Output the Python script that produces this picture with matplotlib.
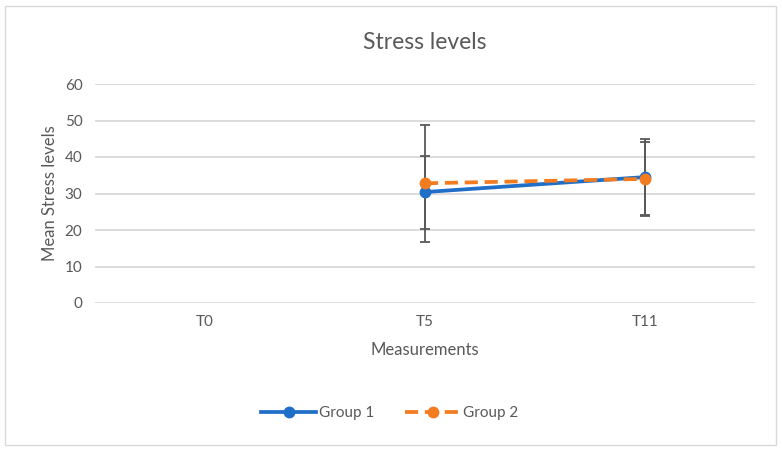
import numpy as np
import matplotlib.pyplot as plt
from matplotlib.patches import Rectangle
from matplotlib.lines import Line2D

plt.rcParams['font.family'] = ['Lato', 'DejaVu Sans']

categorias = ['T0', 'T5', 'T11']
grupo1 = [np.nan, 30.4, 34.5]
grupo2 = [np.nan, 32.8, 34.0]
error1 = [np.nan, 10.0, 10.4]
error2 = [np.nan, 16.0, 10.1]

gris_texto = '#595959'
azul = '#1f6fc8'
naranja = '#f47c20'
estilo_guion = (0, (3.5, 1.8))

fig = plt.figure(figsize=(7.82, 4.51), dpi=100)
fig.patches.append(Rectangle((5 / 782, 6 / 451), 771 / 782, 439 / 451, transform=fig.transFigure,
                             fill=False, edgecolor='#d9d9d9', linewidth=1))
ax = fig.add_axes([95 / 782, 1 - 303 / 451, 660 / 782, 219 / 451])

x = np.arange(len(categorias))
ax.errorbar(x, grupo1, yerr=error1, color=azul, linewidth=2.7, marker='o', markersize=7.5,
            ecolor='#595959', elinewidth=1.3, capsize=3.5, capthick=1.3, zorder=3)
ax.errorbar(x, grupo2, yerr=error2, color=naranja, linewidth=2.7, linestyle=estilo_guion, marker='o',
            markersize=7.5, ecolor='#595959', elinewidth=1.3, capsize=3.5, capthick=1.3, zorder=3)

ax.set_xlim(-0.5, 2.5)
ax.set_ylim(0, 60)
ax.set_yticks(range(0, 61, 10))
ax.set_xticks(x)
ax.set_xticklabels(categorias)
ax.grid(axis='y', color='#d9d9d9', linewidth=1.3)
ax.set_axisbelow(True)
for s in ax.spines.values():
    s.set_visible(False)
ax.tick_params(length=0, labelsize=11, labelcolor=gris_texto, pad=9)

ax.set_title('Stress levels', fontsize=16.5, color=gris_texto, pad=25)
ax.set_xlabel('Measurements', fontsize=12, color=gris_texto, labelpad=9)
ax.set_ylabel('Mean Stress levels', fontsize=12, color=gris_texto, labelpad=5)

manejadores = [
    Line2D([], [], color=azul, linewidth=2.7, marker='o', markersize=7.5),
    Line2D([], [], color=naranja, linewidth=2.7, linestyle=estilo_guion, marker='o', markersize=7.5),
]
ax.legend(manejadores, ['Group 1', 'Group 2'], loc='center', bbox_to_anchor=(390 / 782, 1 - 413 / 451),
          bbox_transform=fig.transFigure, ncol=2, frameon=False, fontsize=11, labelcolor=gris_texto,
          handlelength=3.6, columnspacing=2.0, handletextpad=0.2)

plt.savefig('out.png', dpi=100)
